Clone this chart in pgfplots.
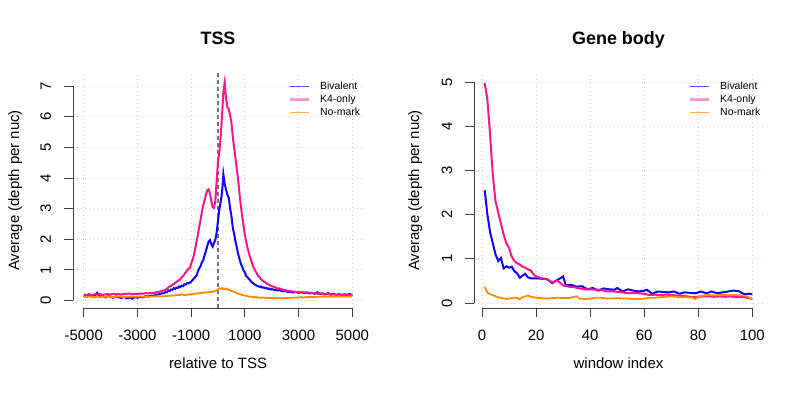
\documentclass[border=0pt]{standalone}
\usepackage{fontspec}
\setmainfont{Liberation Sans}
\usepackage{pgfplots}
\usepackage{pgfplotstable}
\pgfplotsset{compat=1.18}
\definecolor{cBiv}{RGB}{20,0,255}
\definecolor{cK4}{RGB}{255,20,140}
\definecolor{cNo}{RGB}{255,140,0}
\definecolor{gridc}{RGB}{205,205,205}

\pgfplotstableread{
x b k n
-5000 0.15 0.20 0.12
-4900 0.12 0.17 0.11
-4800 0.18 0.21 0.13
-4700 0.13 0.18 0.12
-4600 0.16 0.20 0.11
-4500 0.25 0.19 0.12
-4400 0.12 0.22 0.13
-4300 0.15 0.18 0.11
-4200 0.10 0.20 0.12
-4100 0.14 0.21 0.13
-4000 0.12 0.19 0.12
-3900 0.09 0.22 0.11
-3800 0.13 0.20 0.12
-3700 0.11 0.21 0.13
-3600 0.08 0.19 0.12
-3500 0.12 0.22 0.11
-3400 0.07 0.21 0.12
-3300 0.10 0.23 0.12
-3200 0.06 0.20 0.13
-3100 0.11 0.22 0.12
-3000 0.09 0.21 0.12
-2900 0.12 0.23 0.13
-2800 0.10 0.22 0.12
-2700 0.14 0.24 0.13
-2600 0.13 0.23 0.12
-2500 0.16 0.25 0.13
-2400 0.15 0.24 0.13
-2300 0.19 0.27 0.14
-2200 0.20 0.28 0.13
-2100 0.23 0.31 0.14
-2000 0.24 0.33 0.14
-1950 0.28 0.36 0.15
-1900 0.27 0.38 0.14
-1850 0.33 0.43 0.15
-1800 0.31 0.46 0.16
-1750 0.36 0.47 0.15
-1700 0.35 0.52 0.17
-1650 0.40 0.53 0.16
-1600 0.38 0.58 0.17
-1550 0.42 0.60 0.18
-1500 0.41 0.64 0.17
-1450 0.46 0.66 0.19
-1400 0.44 0.70 0.18
-1350 0.49 0.76 0.20
-1300 0.47 0.80 0.19
-1250 0.53 0.86 0.18
-1200 0.52 0.92 0.17
-1150 0.57 0.98 0.19
-1100 0.56 1.04 0.20
-1050 0.58 1.05 0.19
-1000 0.62 1.20 0.21
-950 0.66 1.32 0.22
-900 0.72 1.47 0.21
-850 0.76 1.68 0.23
-800 0.82 1.92 0.22
-750 0.95 2.15 0.24
-700 1.05 2.40 0.23
-650 1.12 2.62 0.25
-600 1.25 2.90 0.24
-550 1.32 3.10 0.26
-500 1.48 3.28 0.25
-450 1.62 3.45 0.27
-400 1.78 3.60 0.26
-350 1.92 3.63 0.28
-300 1.97 3.50 0.27
-250 1.84 3.25 0.29
-200 1.76 3.05 0.28
-150 1.88 3.02 0.30
-100 1.98 3.25 0.31
-50 2.22 3.90 0.33
0 2.62 4.55 0.36
50 2.98 4.85 0.40
100 3.22 5.35 0.38
150 3.52 6.05 0.41
200 4.12 6.80 0.37
250 3.80 7.12 0.39
300 3.62 6.60 0.36
350 3.45 6.30 0.38
400 3.36 6.25 0.35
450 3.02 6.05 0.34
500 2.76 5.80 0.31
550 2.38 5.35 0.30
600 2.18 5.00 0.28
650 1.93 4.65 0.27
700 1.74 4.30 0.24
750 1.52 3.95 0.23
800 1.36 3.50 0.21
850 1.20 3.10 0.20
900 1.10 2.75 0.18
950 0.98 2.45 0.17
1000 0.92 2.15 0.16
1050 0.80 1.92 0.15
1100 0.76 1.72 0.14
1150 0.70 1.55 0.13
1200 0.66 1.40 0.12
1250 0.60 1.28 0.12
1300 0.57 1.13 0.11
1350 0.53 1.04 0.11
1400 0.51 0.95 0.10
1450 0.48 0.88 0.11
1500 0.47 0.80 0.10
1550 0.44 0.76 0.09
1600 0.46 0.70 0.10
1650 0.42 0.66 0.09
1700 0.43 0.62 0.10
1750 0.40 0.60 0.09
1800 0.41 0.56 0.08
1850 0.38 0.54 0.09
1900 0.39 0.52 0.08
1950 0.36 0.49 0.09
2000 0.37 0.47 0.08
2100 0.35 0.44 0.08
2200 0.33 0.40 0.07
2300 0.34 0.39 0.08
2400 0.30 0.35 0.07
2500 0.31 0.34 0.08
2600 0.28 0.31 0.08
2700 0.29 0.31 0.09
2800 0.26 0.29 0.09
2900 0.28 0.28 0.10
3000 0.25 0.27 0.10
3100 0.27 0.28 0.11
3200 0.24 0.26 0.10
3300 0.26 0.25 0.11
3400 0.23 0.26 0.11
3500 0.25 0.24 0.12
3600 0.22 0.25 0.11
3700 0.27 0.22 0.12
3800 0.21 0.24 0.12
3900 0.23 0.21 0.13
4000 0.20 0.20 0.12
4100 0.24 0.22 0.13
4200 0.19 0.19 0.12
4300 0.22 0.21 0.13
4400 0.18 0.18 0.13
4500 0.21 0.20 0.12
4600 0.17 0.19 0.13
4700 0.20 0.18 0.13
4800 0.18 0.20 0.12
4900 0.21 0.17 0.13
5000 0.17 0.19 0.13
}\tssdata

\pgfplotsset{rstyle/.style={
  scale only axis,
  axis lines*=left,
  axis line style={draw=none},
  tick align=outside,
  major tick length=9bp,
  tick style={black!75, line width=0.8bp},
  grid=major,
  grid style={gridc, line width=0.9bp, dash pattern=on 1bp off 3bp},
  ticklabel style={font=\fontsize{15}{18}\selectfont},
  xticklabel style={anchor=base, yshift=-24bp},
  yticklabel style={rotate=90, anchor=base},
  yticklabel shift=13bp,
  scaled ticks=false,
  clip=false,
  legend cell align=left,
  legend image code/.code={\draw[##1] (0bp,0bp) -- (19bp,0bp);},
  legend style={draw=none, fill=none, inner sep=0pt, row sep=0pt, column sep=10bp,
    font=\fontsize{10.5}{12.6}\selectfont,
    nodes={inner sep=0pt, text height=9bp, text depth=4bp}},
}}

\begin{document}
\begin{tikzpicture}
\useasboundingbox (0,0) rectangle (800bp,400bp);

% ---------- TSS ----------
\begin{axis}[rstyle,
  at={(73bp,92bp)}, anchor=south west,
  width=290bp, height=235bp,
  xmin=-5400, xmax=5400, ymin=-0.245, ymax=7.43,
  xtick={-5000,-3000,-1000,1000,3000,5000},
  xticklabels={-5000,-3000,-1000,1000,3000,5000},
  ytick={0,1,2,3,4,5,6,7},
  yticklabels={0,1,2,3,4,5,6,7},
  legend style={at={(0.741,0.970)}, anchor=north west},
]
\draw[black!75, line width=0.8bp] (axis cs:-5000,-0.245) -- (axis cs:5000,-0.245);
\draw[black!75, line width=0.8bp] (axis cs:-5400,0) -- (axis cs:-5400,7);
\addplot[forget plot, black!55, line width=1.1bp, dash pattern=on 4bp off 3bp] coordinates {(0,-0.245) (0,7.43)};
\addplot[forget plot, cBiv, line width=2bp] table[x=x, y=b] {\tssdata};
\addplot[forget plot, cK4, line width=2bp] table[x=x, y=k] {\tssdata};
\addplot[forget plot, cNo, line width=1.8bp] table[x=x, y=n] {\tssdata};
\addlegendimage{cBiv!70, line width=1.3bp}
\addlegendimage{cK4!45, line width=3bp}
\addlegendimage{cNo!70, line width=1.3bp}
\legend{Bivalent,K4-only,No-mark}
\end{axis}

% ---------- Gene body ----------
\begin{axis}[rstyle,
  at={(474bp,92bp)}, anchor=south west,
  width=289bp, height=235bp,
  xmin=-2.96, xmax=103.96, ymin=-0.113, ymax=5.204,
  xtick={0,20,40,60,80,100},
  xticklabels={0,20,40,60,80,100},
  ytick={0,1,2,3,4,5},
  yticklabels={0,1,2,3,4,5},
  legend style={at={(0.7405,0.970)}, anchor=north west},
]
\draw[black!75, line width=0.8bp] (axis cs:0,-0.113) -- (axis cs:100,-0.113);
\draw[black!75, line width=0.8bp] (axis cs:-2.96,0) -- (axis cs:-2.96,5);
\addplot[forget plot, cBiv, line width=2bp] coordinates {
(1,2.55) (2,2.0) (3,1.6) (4,1.35) (5,1.1) (6,0.95) (7,1.02) (8,0.78) (9,0.83) (10,0.8)
(11,0.82) (12,0.72) (13,0.67) (14,0.57) (15,0.62) (16,0.66) (17,0.58) (18,0.56) (19,0.56) (20,0.56)
(22,0.55) (24,0.54) (26,0.45) (27,0.49) (29,0.56) (30,0.6) (31,0.4) (33,0.41) (35,0.37) (37,0.38)
(39,0.31) (41,0.34) (43,0.28) (45,0.33) (47,0.31) (49,0.3) (50,0.34) (52,0.26) (54,0.31) (56,0.28)
(58,0.26) (60,0.28) (61,0.3) (63,0.21) (65,0.26) (67,0.25) (69,0.24) (71,0.26) (73,0.21) (75,0.24)
(77,0.23) (79,0.22) (81,0.26) (83,0.22) (85,0.26) (87,0.22) (89,0.24) (91,0.26) (93,0.28) (95,0.27)
(97,0.2) (99,0.21) (100,0.2)};
\addplot[forget plot, cK4, line width=2bp] coordinates {
(1,4.98) (2,4.6) (3,3.8) (4,2.9) (5,2.3) (6,2.05) (7,1.8) (8,1.55) (9,1.35) (10,1.25)
(11,1.05) (12,0.95) (13,0.9) (14,0.87) (15,0.82) (16,0.8) (17,0.76) (18,0.74) (19,0.65) (20,0.6)
(22,0.56) (24,0.54) (26,0.47) (28,0.5) (30,0.4) (32,0.37) (34,0.36) (36,0.33) (38,0.31) (40,0.31)
(42,0.3) (44,0.3) (46,0.26) (48,0.27) (50,0.25) (52,0.24) (54,0.22) (56,0.23) (58,0.22) (60,0.21)
(62,0.18) (64,0.19) (66,0.18) (68,0.19) (70,0.18) (72,0.17) (74,0.16) (76,0.15) (78,0.13) (80,0.14)
(82,0.15) (84,0.15) (86,0.14) (88,0.15) (90,0.14) (92,0.15) (94,0.13) (96,0.14) (98,0.12) (100,0.09)};
\addplot[forget plot, cNo, line width=1.8bp] coordinates {
(1,0.37) (2,0.23) (3,0.2) (4,0.18) (5,0.15) (6,0.13) (7,0.12) (8,0.1) (9,0.09) (10,0.1)
(11,0.11) (12,0.12) (13,0.11) (14,0.09) (15,0.13) (16,0.15) (17,0.17) (18,0.14) (19,0.13) (20,0.12)
(22,0.11) (24,0.1) (26,0.11) (28,0.12) (30,0.11) (32,0.11) (34,0.14) (35,0.15) (36,0.1) (38,0.09)
(40,0.1) (42,0.12) (44,0.12) (46,0.1) (48,0.1) (50,0.11) (52,0.1) (54,0.1) (56,0.09) (58,0.09)
(60,0.1) (62,0.12) (64,0.12) (66,0.13) (68,0.14) (70,0.15) (72,0.14) (74,0.13) (76,0.13) (78,0.12)
(79,0.09) (80,0.15) (82,0.17) (84,0.18) (86,0.17) (88,0.18) (90,0.18) (92,0.18) (94,0.18) (96,0.17)
(98,0.15) (100,0.09)};
\addlegendimage{cBiv!70, line width=1.3bp}
\addlegendimage{cK4!45, line width=3bp}
\addlegendimage{cNo!70, line width=1.3bp}
\legend{Bivalent,K4-only,No-mark}
\end{axis}

% ---------- titles and labels ----------
\node[anchor=base, font=\bfseries\fontsize{18}{22}\selectfont] at (218bp,355.5bp) {TSS};
\node[anchor=base, font=\bfseries\fontsize{18}{22}\selectfont] at (618.5bp,355.5bp) {Gene body};
\node[anchor=base, font=\fontsize{15}{18}\selectfont] at (218bp,31.6bp) {relative to TSS};
\node[anchor=base, font=\fontsize{15}{18}\selectfont] at (618.5bp,31.6bp) {window index};
\node[anchor=base, rotate=90, font=\fontsize{15}{18}\selectfont] at (19bp,209.5bp) {Average (depth per nuc)};
\node[anchor=base, rotate=90, font=\fontsize{15}{18}\selectfont] at (419bp,209.5bp) {Average (depth per nuc)};
\end{tikzpicture}
\end{document}
